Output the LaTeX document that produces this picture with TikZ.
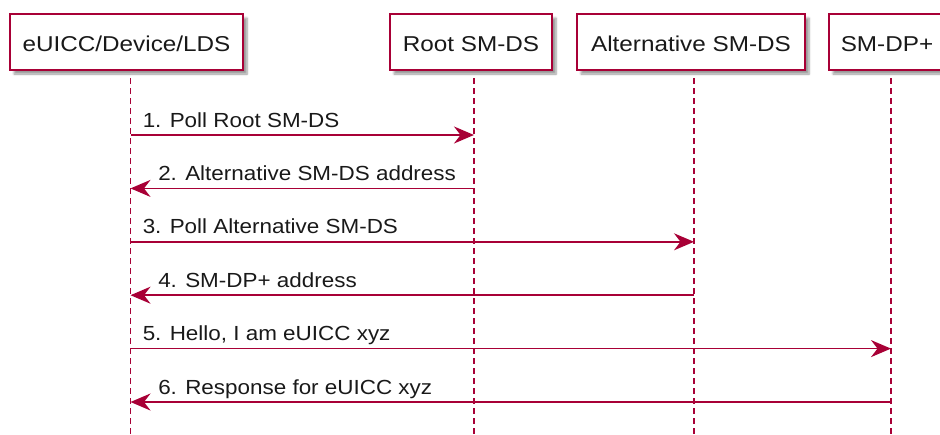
\documentclass[tikz,border=0pt]{standalone}
\usepackage{fontspec}
\setmainfont{Liberation Sans}
\newfontfamily\partfont[FakeStretch=1.13]{Liberation Sans}
\newfontfamily\msgfont[FakeStretch=1.1]{Liberation Sans}
\usetikzlibrary{arrows.meta,shadows.blur,positioning}
\definecolor{umlred}{HTML}{A80036}

\begin{document}
\begin{tikzpicture}[x=1pt,y=-1pt,>={Stealth[length=20pt,width=17pt,inset=6.5pt]},
                    semithick]
  \tikzstyle{actor}=[draw=umlred,line width=1.5pt,fill=white,text=black!90,
    minimum height=56pt,inner sep=0pt,text height=18pt,text depth=0pt,
    font=\partfont\fontsize{21.5pt}{24pt}\selectfont,
    blur shadow={shadow xshift=4pt,shadow yshift=-4pt,shadow blur steps=6}]
  \tikzstyle{life}=[draw=umlred,line width=1.2pt,dash pattern=on 6pt off 4pt]
  \tikzstyle{msg}=[draw=umlred,line width=1.5pt,->]
  \tikzstyle{label}=[anchor=base west,yshift=8pt,inner sep=0pt,text=black!90,
    font=\msgfont\fontsize{20.4pt}{23pt}\selectfont]
  \tikzstyle{fwd}=[label,pos=0,xshift=11.5pt]
  \tikzstyle{back}=[label,pos=1,xshift=27pt]

  \useasboundingbox (0,0) rectangle (940,434);

  % participants
  \node[actor,minimum width=233pt] (eu)   at (126.5,42) {eUICC/Device/LDS};
  \node[actor,minimum width=162pt] (root) at (471,42)   {Root SM-DS};
  \node[actor,minimum width=228pt] (alt)  at (691,42)   {Alternative SM-DS};
  \node[actor,minimum width=116pt] (dp)   at (887,42)   {SM-DP+};

  % lifelines
  \foreach \n/\x in {eu/130.5,root/474,alt/694,dp/891}{
    \coordinate (\n-top) at (\x,78);
    \coordinate (\n-end) at (\x,434);
    \draw[life] (\n-top) -- (\n-end);
  }
  \foreach \i in {1,...,6}
    \coordinate (r\i) at (0,{135+53.4*(\i-1)});

  % messages
  \draw[msg] (eu-top |- r1) -- (root-top |- r1) node[fwd] {1. Poll Root SM-DS};
  \draw[msg] (root-top |- r2) -- (eu-top |- r2) node[back] {2. Alternative SM-DS address};
  \draw[msg] (eu-top |- r3) -- (alt-top |- r3) node[fwd] {3. Poll Alternative SM-DS};
  \draw[msg] (alt-top |- r4) -- (eu-top |- r4) node[back] {4. SM-DP+ address};
  \draw[msg] (eu-top |- r5) -- (dp-top |- r5) node[fwd] {5. Hello, I am eUICC xyz};
  \draw[msg] (dp-top |- r6) -- (eu-top |- r6) node[back] {6. Response for eUICC xyz};
\end{tikzpicture}
\end{document}
